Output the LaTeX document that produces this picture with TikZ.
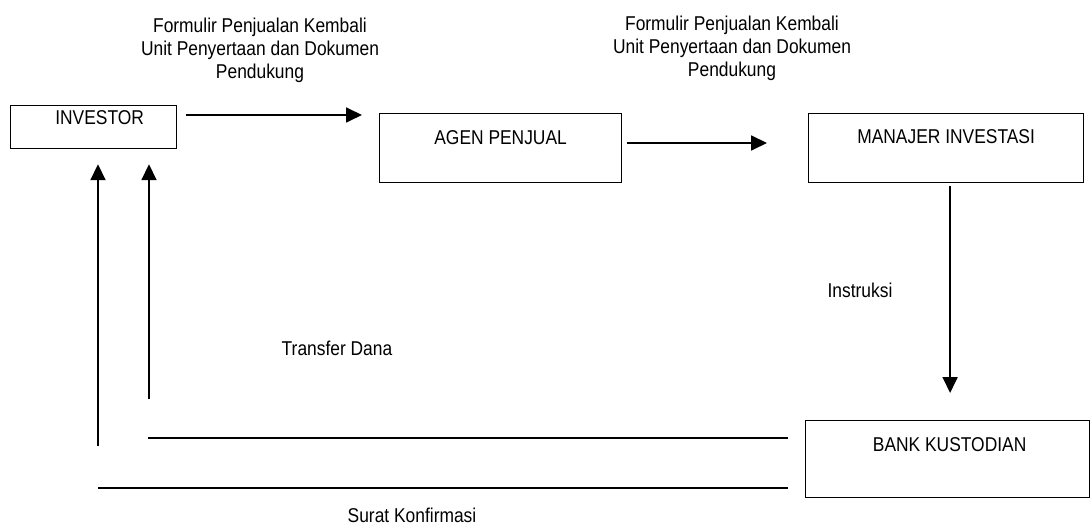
\documentclass[tikz,border=0pt]{standalone}
\usepackage{fontspec}
\setmainfont{Liberation Sans}[FakeStretch=0.87]
\usepackage{tikz}
\usetikzlibrary{arrows.meta}

\begin{document}
\begin{tikzpicture}[x=1pt,y=-1pt]
					\tikzstyle{kotak} = [draw=black,line width=1.2pt,inner sep=0pt,anchor=north west,font=\fontsize{20}{23}\selectfont]
					\tikzstyle{teks} = [inner sep=0pt,align=center,font=\fontsize{20}{23}\selectfont]
					\tikzstyle{panah} = [line width=1.8pt,-{Triangle[length=16pt,width=15pt]}]
					\tikzstyle{garis} = [line width=1.1pt]
					\useasboundingbox (0,0) rectangle (1091,526);
					\node[kotak,minimum width=166pt,text height=19pt,text depth=24pt] (inv) at (10,105) {\hspace*{12pt}INVESTOR};
					\node[kotak,minimum width=242pt,text height=31pt,text depth=38pt] (agen) at (379,113) {AGEN PENJUAL};
					\node[kotak,minimum width=275pt,text height=30pt,text depth=39pt] (man) at (808,113) {MANAJER INVESTASI};
					\node[kotak,minimum width=284pt,text height=31pt,text depth=46pt] (bank) at (805,420) {\hspace*{4pt}BANK KUSTODIAN};
					\node[teks,anchor=north] (form1) at (260,18) {Formulir Penjualan Kembali\\Unit Penyertaan dan Dokumen\\Pendukung};
					\node[teks,anchor=north] (form2) at (732,16) {Formulir Penjualan Kembali\\Unit Penyertaan dan Dokumen\\Pendukung};
					\node[teks,anchor=base] (instr) at (860,298) {Instruksi};
					\node[teks,anchor=base] (trf) at (337,355) {Transfer Dana};
					\node[teks,anchor=base] (surat) at (412,522) {Surat Konfirmasi};
					\coordinate (tf) at (149,399);
					\coordinate (sk) at (98,446);
					\coordinate (a1) at (148,438);
					\coordinate (a2) at (98,488);
					\draw[panah,shorten <=9pt,shorten >=17pt] ([yshift=-10pt]inv.north east) -- ([yshift=-10pt]inv.north east -| agen.west);
					\draw[panah,shorten <=5pt,shorten >=41pt] ([yshift=-30pt]agen.north east) -- ([yshift=-30pt]agen.north east -| man.west);
					\draw[panah,shorten <=3pt,shorten >=27pt] ([xshift=4pt]man.south) -- ([xshift=4pt]man.south |- bank.north);
					\draw[panah,shorten >=15pt] (tf) -- (tf |- inv.south);
					\draw[panah,shorten >=15pt] (sk) -- (sk |- inv.south);
					\draw[garis,shorten <=17pt] ([yshift=-18pt]bank.north west) -- (a1);
					\draw[garis,shorten <=17pt] ([yshift=-68pt]bank.north west) -- (a2);
					\end{tikzpicture}
\end{document}
